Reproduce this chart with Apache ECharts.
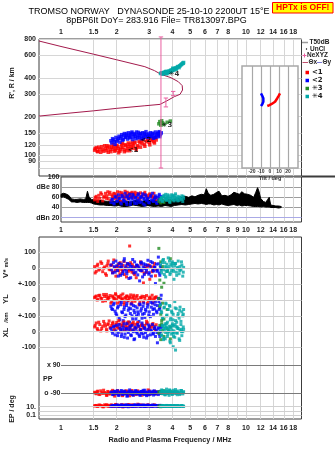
<!DOCTYPE html>
<html>
<head>
<meta charset="utf-8">
<script src="https://cdn.jsdelivr.net/npm/echarts@6/dist/echarts.min.js"></script>
<style>
html,body{margin:0;padding:0;background:#fff;}
#chart{width:335px;height:451px;}
</style>
</head>
<body>
<div id="chart"></div>
<script>
// ---- frequency ticks (MHz) ----
const freqTicksTop = [1, 1.5, 2, 3, 4, 5, 6, 7, 8, 10, 12, 14, 16, 18];
const freqTicksMid = [1, 1.5, 2, 3, 4, 5, 6, 7, 8, 9, 10, 12, 14, 16, 18];
const freqGridLines = [1.5, 2, 3, 4, 5, 6, 7, 8, 9, 10, 12, 14, 16, 18];
const heightTicks = [80, 90, 100, 120, 150, 200, 300, 400, 600, 800];
const ampTicks = [100, 80, 60, 40, 20];
const tiltTicks = [-20, -10, 0, 10, 20];

// ---- electron density profile (plasma frequency MHz, height km) ----
const profileFreq = [0.76, 1, 1.5, 2, 2.84, 3.2, 3.47, 3.93, 4.31, 4.52, 4.54, 4.4, 4.1, 3.73, 3.43, 2.84, 2, 1.5, 1, 0.76];
const profileKm   = [772, 700, 610, 552, 488, 455, 426, 401, 373, 348, 322, 298, 286, 265, 249, 243, 232, 222, 210, 202];

// ---- NeXYZ uncertainty bars ----
const neFreq = [3.47, 3.69, 4.04];
const neLowKm = [80, 238, 291];
const neHighKm = [830, 279, 314];

// ---- T50dB noise band (dB) ----
const noiseFreq = [1.0,1.03,1.06,1.1,1.14,1.18,1.22,1.27,1.32,1.36,
  1.39,1.42,1.46,1.5,1.56,1.62,1.7,1.78,1.86,1.95,
  2.05,2.15,2.25,2.35,2.45,2.55,2.65,2.75,2.85,2.95,
  3.05,3.2,3.35,3.5,3.65,3.8,3.95,4.1,4.3,4.5,
  4.7,4.9,5.1,5.3,5.5,5.75,5.95,6.1,6.25,6.45,
  6.7,6.95,7.15,7.4,7.7,8.0,8.3,8.6,8.9,9.2,
  9.5,9.8,10.2,10.6,11.0,11.3,11.55,11.75,12.0,12.4,
  12.8,13.1,13.35,13.6,14.0,14.5,15.0,15.5];
const noiseLow = [60,61,59,56,51,51,50,51,50,50,
  50,50,49,47,46,45,45,44,44,43,
  44,42,42,43,45,44,43,42,43,44,
  43,42,43,42,44,43,42,44,45,46,
  45,46,47,48,47,48,47,46,47,47,
  45,46,45,47,45,44,45,46,44,45,
  43,44,44,43,42,42,42,42,41,42,
  41,41,41,40,40,40,39,40];
const noiseHigh = [66,68,67,64,57,56,56,57,56,57,
  72,60,56,55,54,54,53,52,53,52,
  54,52,53,51,52,55,53,52,54,55,
  53,54,52,55,54,56,55,57,58,60,
  62,60,63,61,64,66,65,77,68,64,
  66,70,72,63,64,62,65,70,68,66,
  71,67,66,64,60,70,79,72,58,52,
  50,56,60,45,44,43,43,42];

// ---- echo group 1 (red) ----
const f1 = [1.52,1.55,1.58,1.62,1.66,1.7,1.74,1.77,1.8,1.84,1.88,1.91,1.95,1.98,2.02,2.05,2.09,2.13,2.16,2.2,2.24,2.28,2.31,2.35,2.39,2.43,2.47,2.51,2.55,2.6,2.64,2.69,2.74,2.79,2.84,2.9,2.96,3.02,3.08,3.14,3.2,3.27,
  1.53,1.57,1.6,1.64,1.68,1.72,1.76,1.79,1.82,1.86,1.9,1.93,1.97,2.0,2.04,2.08,2.11,2.15,2.19,2.22,2.26,2.3,2.34,2.38,2.42,2.46,2.5,2.58,2.67,2.72,2.82,2.93,3.0,3.11,3.18,3.24];
const h1 = [110,115,107,112,117,108,113,119,106,111,116,121,108,113,118,105,111,122,115,107,120,113,125,109,117,123,114,127,111,119,129,116,124,132,118,128,134,121,130,136,125,132,
  113,108,116,106,111,119,109,115,118,107,112,117,110,120,113,108,116,124,111,121,109,117,122,114,127,119,125,116,126,130,122,131,126,133,128,137];
const a1 = [55,62,52,58,66,60,68,63,57,70,65,59,67,61,71,56,64,69,62,58,66,70,60,64,68,61,67,70,63,58,66,69,62,65,70,64,60,67,63,58,61,56,
  60,57,64,69,53,62,58,71,66,54,62,68,57,65,60,70,52,66,61,72,64,57,68,62,70,59,65,68,56,61,67,59,65,62,68,60];
const vs1 = [10,-20,25,-5,30,0,-35,15,45,-10,20,-25,5,-50,12,-15,35,-8,18,-40,3,28,-20,140,-12,22,-30,8,-60,15,-5,40,-18,-93,10,-25,20,-70,5,-15,30,-10,
  -30,15,-12,40,-22,8,-45,28,-6,18,-28,52,-15,0,25,-35,10,-20,42,-4,-55,20,-10,35,-25,6,-40,14,-8,26,-32,4,18,-22,12,-48];
const yl1 = [15,25,5,30,10,35,-5,20,12,28,-10,18,8,32,-20,22,14,5,38,-15,10,25,0,18,-25,12,30,-8,20,6,-30,15,24,-12,10,28,-5,18,8,-18,12,20,
  20,0,28,12,-8,22,35,5,15,-20,25,10,40,2,18,-12,30,8,-28,16,24,-5,12,32,-15,20,4,28,-10,14,22,-22,10,30,0,16];
const xl1 = [30,55,10,45,20,65,35,5,50,25,40,60,15,45,30,70,20,38,55,10,42,28,62,18,35,50,8,45,25,58,32,15,48,22,40,66,12,35,28,52,18,44,
  40,20,60,5,35,50,15,45,68,28,52,10,36,58,22,48,5,40,62,30,16,54,38,12,46,60,24,50,6,40,28,56,20,44,34,10];
const pp1 = [-85,-95,-78,-100,-88,-72,-92,-105,-84,-96,-80,-90,-110,-86,-75,-98,-88,-82,-102,-91,-77,-94,-86,-108,-80,-97,-89,-83,-100,-76,-93,-87,-104,-81,-95,-90,-70,-99,-85,-92,-79,-96,
  -90,-82,-98,-76,-93,-87,-104,-80,-95,-88,-73,-101,-85,-92,-79,-97,-89,-107,-83,-94,-78,-99,-86,-91,-74,-103,-88,-81,-96,-90,-84,-100,-77,-93,-87,-82];
const ep1 = [15,20,12,25,18,10,22,30,14,17,26,11,19,35,16,21,13,28,9,24,18,15,32,20,12,27,17,22,14,40,19,11,25,16,23,13,29,18,21,15,26,17,
  18,13,23,16,10,27,15,20,12,24,17,14,30,19,11,22,16,25,13,18,21,15,28,12,19,23,14,17,26,20,13,22,16,11,24,18];

// ---- echo group 2 (blue) ----
const f2 = [1.86,1.9,1.94,1.98,2.02,2.06,2.1,2.13,2.17,2.2,2.24,2.27,2.31,2.35,2.38,2.42,2.46,2.5,2.54,2.58,2.62,2.66,2.7,2.74,2.78,2.82,2.86,2.9,2.95,3.0,3.04,3.08,3.12,3.16,3.2,3.24,3.28,3.32,3.36,3.4,3.44,3.48,
  1.88,1.92,1.96,2.0,2.04,2.08,2.12,2.15,2.19,2.22,2.26,2.29,2.33,2.37,2.4,2.44,2.48,2.52,2.56,2.6,2.64,2.68,2.72,2.76,2.8,2.84,2.88,2.93,2.98,3.06,3.14,3.22,3.3,3.38,3.42,3.46];
const h2 = [130,135,128,138,132,141,136,145,133,148,139,143,150,137,146,152,140,148,135,144,151,138,147,142,136,149,141,145,138,143,150,140,147,136,144,152,139,148,142,153,145,150,
  125,132,122,129,136,127,140,131,144,138,147,134,142,139,149,133,145,141,152,137,143,148,135,150,139,146,153,140,147,141,149,138,146,151,140,148];
const a2 = [50,56,47,60,53,58,49,64,55,52,61,46,58,66,51,57,63,48,60,54,67,50,59,62,47,56,65,53,58,49,61,55,68,52,57,63,50,60,54,66,58,62,
  56,49,62,52,65,58,47,61,54,68,50,63,57,46,60,66,53,59,48,64,55,61,51,67,58,45,62,56,50,64,53,59,48,63,57,52];
const vs2 = [20,-30,10,45,-15,30,-45,5,-20,60,15,-35,0,25,-60,10,-10,40,-25,18,-5,-80,32,-15,8,-40,22,-8,50,-28,12,-50,35,-18,4,-97,26,-12,70,-30,15,-6,
  -10,35,-25,15,-50,5,25,-35,45,-5,-20,30,-65,12,-8,55,-30,2,20,-42,8,-15,38,-55,28,-2,-25,18,-38,42,-12,6,-20,28,-45,10];
const yl2 = [-40,-60,-20,-85,-50,-110,-30,-75,-130,-45,-95,-20,-65,-140,-55,-100,-35,-80,-120,-50,-90,-25,-70,-115,-40,-85,-60,-150,-30,-75,-105,-45,-20,-90,-55,-10,-70,-35,10,-60,-25,30,
  -55,-30,-70,-95,-40,-125,-15,-80,-60,-105,-35,-145,-50,-85,-25,-120,-65,-40,-100,-75,-135,-30,-55,-90,-20,-110,-70,-45,-95,-15,-60,-30,-80,-10,-50,5];
const xl2 = [20,-10,35,5,-25,45,10,-15,30,-35,15,50,-5,25,-20,40,0,-45,20,-10,35,-30,10,55,-15,25,-5,-40,15,30,-20,5,45,-10,20,-30,10,-70,25,-15,0,35,
  5,30,-20,40,-5,25,-30,15,50,-15,20,-40,8,35,-25,12,-50,28,0,45,-20,15,-10,38,-35,20,5,-25,42,10,-15,30,-5,18,-30,25];
const pp2 = [-88,-100,-80,-95,-75,-105,-90,-84,-98,-78,-92,-110,-86,-70,-96,-82,-104,-89,-76,-94,-87,-101,-81,-93,-73,-99,-85,-107,-90,-79,-97,-84,-91,-103,-77,-95,-88,-82,-100,-86,-93,-80,
  -84,-97,-79,-91,-104,-86,-74,-99,-89,-82,-95,-108,-78,-92,-85,-100,-88,-76,-96,-83,-90,-105,-80,-94,-87,-72,-98,-85,-102,-91,-78,-96,-88,-83,-93,-86];
const ep2 = [12,16,20,14,25,11,18,22,15,13,28,17,10,21,16,19,12,24,14,18,30,13,17,22,15,11,20,16,26,13,19,14,23,12,17,21,15,18,11,16,14,20,
  15,19,12,23,17,14,26,11,20,16,13,24,18,15,21,12,17,27,14,19,16,22,13,18,25,15,11,20,17,14,23,19,12,16,21,15];

// ---- echo group 3 (green) ----
const f3 = [3.38,3.42,3.46,3.5,3.54,3.6,3.75,3.9];
const h3 = [176,183,172,186,179,174,181,185];
const a3 = [52,56,49,58,54,50,57,53];
const vs3 = [125,-75,40,-120,10,-95,-20,60];
const yl3 = [10,-40,-90,-150,-20,-120,-60,-170];
const xl3 = [-10,40,-50,70,5,-30,20,-45];
const pp3 = [-82,-88,-78,-92,-85,-75,-90,-80];
const ep3 = [12,15,10,18,14,11,16,13];

// ---- echo group 4 (cyan) ----
const f4 = [3.45,3.5,3.55,3.6,3.64,3.68,3.72,3.76,3.8,3.84,3.88,3.92,3.96,4.0,4.04,4.08,4.12,4.16,4.2,4.25,4.3,4.35,4.4,4.45,4.5,4.55,4.6,3.58,3.7,4.02,
  3.48,3.53,3.62,3.66,3.74,3.78,3.86,3.9,3.98,4.06,4.14,4.22,4.28,4.38,4.48,4.58];
const h4 = [432,438,428,441,435,444,430,447,439,452,445,458,450,462,468,457,472,478,466,484,490,480,497,505,512,520,526,436,449,475,
  434,429,437,446,433,442,448,455,460,466,470,476,486,494,508,518];
const a4 = [55,60,52,64,58,66,54,61,57,63,50,59,65,56,62,53,60,67,55,58,62,54,60,57,63,52,58,61,56,64,
  58,53,62,56,60,65,52,58,61,55,64,59,53,60,56,62];
const vs4 = [20,-30,50,-10,35,-55,5,-20,65,10,-40,25,-15,40,-5,-70,15,30,-25,0,45,-35,10,-10,20,-50,5,55,-20,30,
  -15,35,-40,10,25,-5,45,-30,15,-20,30,-45,5,-15,40,-25];
const yl4 = [-30,-80,-120,-50,-160,-20,-100,-140,-60,-190,-40,-110,-70,-150,-90,-210,-10,-130,-55,-170,-85,-115,-45,-135,-75,-100,-60,-180,-25,-125,
  -70,-110,-45,-150,-95,-200,-35,-125,-80,-165,-50,-140,-100,-65,-185,-90];
const xl4 = [10,-20,35,-40,20,-5,50,-30,15,0,-60,25,-15,40,-95,5,-35,-116,30,-10,20,-45,10,45,-25,0,15,-50,30,-5,
  -25,40,5,-45,25,-15,35,-70,10,-30,45,-5,20,-55,0,30];
const pp4 = [-85,-70,-95,-78,-100,-88,-65,-92,-80,-105,-75,-90,-84,-98,-72,-86,-94,-68,-82,-101,-77,-89,-93,-74,-87,-96,-81,-91,-79,-85,
  -92,-76,-88,-102,-81,-95,-70,-90,-98,-84,-79,-93,-86,-100,-74,-88];
const ep4 = [14,11,18,13,16,12,20,15,11,17,13,19,14,12,16,15,18,12,14,17,13,15,11,16,19,14,12,17,15,13,
  12,16,14,11,18,13,15,17,12,14,16,11,19,13,15,14];

// ---- echo group markers on the height panel ----
const markFreq = [2.45, 2.88, 3.74, 4.08];
const markKm = [110, 132, 172, 425];
const markText = ['<1', '<2', '\u27333', '\u27334'];

// ---- wave-vector tilt (deg) vs height (km) ----
const tiltBlueDeg = [-10, -8.6, -7.4, -7.1, -7.4, -8.6, -10];
const tiltBlueKm  = [303, 290, 278, 270, 261, 250, 242];
const tiltRedDeg  = [-3, -0.5, 1.9, 4, 5.6, 7, 8.1, 9.6, 11.1];
const tiltRedKm   = [242, 246, 251, 256, 261, 269, 278, 290, 303];

// ---------------------------------------------------------------
const lg = Math.log10;
const FONT = "'Liberation Sans', Arial, sans-serif";
const X_MIN = -22 / 185, X_MAX = 240.5 / 185;          // log10(MHz)
const H_MAX = lg(800), H_MIN = lg(800) - 137 / 129;     // log10(km)
const AMP_MAX = 100, AMP_MIN = 100 - 45 / 0.50875;
const ROW = 0.1585;                                     // px per m/s (or km)
const V_MAX = 31.2 / ROW, YL_MAX = 63 / ROW, XL_MAX = 94.7 / ROW, LOW_SPAN = 182 / ROW;
const PP_MAX = 90 + 25 / 0.15556, PP_MIN = -90 - 17 / 0.15556;
const EP_MAX = 1 + 11.7 / 4.15, EP_MIN = -1 - 4 / 4.15;

const labelFont = {fontFamily: FONT, fontSize: 7, fontWeight: 'bold', color: '#1c1c1c'};
const freqFmt = v => String(+Math.pow(10, v).toFixed(2));
const lightLine = {show: true, lineStyle: {color: '#d6d6d6', width: 1}};

const groups = [
  {color: '#ff0000', f: f1, h: h1, a: a1, vs: vs1, yl: yl1, xl: xl1, pp: pp1, ep: ep1},
  {color: '#0000ff', f: f2, h: h2, a: a2, vs: vs2, yl: yl2, xl: xl2, pp: pp2, ep: ep2},
  {color: '#228b22', f: f3, h: h3, a: a3, vs: vs3, yl: yl3, xl: xl3, pp: pp3, ep: ep3},
  {color: '#00a8a8', f: f4, h: h4, a: a4, vs: vs4, yl: yl4, xl: xl4, pp: pp4, ep: ep4}
];

function freqAxis(gridIndex, extra) {
  return Object.assign({
    type: 'value', gridIndex: gridIndex, min: X_MIN, max: X_MAX,
    axisLine: {show: false},
    axisTick: {show: false, customValues: freqGridLines.map(lg)},
    axisLabel: {show: false},
    splitLine: {show: false}
  }, extra);
}
function rowAxis(gridIndex, min, max, labels, fmt, margin) {
  return {
    type: 'value', gridIndex: gridIndex, min: min, max: max,
    axisLine: {show: false}, axisTick: {show: false}, splitLine: {show: false},
    axisLabel: Object.assign({customValues: labels, formatter: v => fmt[v], margin: margin}, labelFont)
  };
}
function guideLines(idx, values, color, width) {
  return {
    type: 'scatter', xAxisIndex: idx, yAxisIndex: idx, data: [], z: 1, silent: true,
    markLine: {silent: true, symbol: 'none', animation: false, label: {show: false},
      lineStyle: {color: color, width: width, type: 'solid'},
      emphasis: {disabled: true},
      data: values.map(v => ({yAxis: v}))}
  };
}
function echoSeries(idx, key, transform, size) {
  return groups.map(g => ({
    type: 'scatter', xAxisIndex: idx, yAxisIndex: idx, z: 3, silent: true,
    symbol: 'rect', symbolSize: size, itemStyle: {color: g.color},
    data: g.f.map((f, i) => [lg(f), transform ? transform(g[key][i]) : g[key][i]])
  }));
}

const gridBase = {right: 33.5, outerBoundsMode: 'none', containLabel: false};
const grids = [
  Object.assign({left: 39, top: 39, height: 137, show: true, borderColor: '#3c3c3c', borderWidth: 1, backgroundColor: 'transparent'}, gridBase),
  Object.assign({left: 61, top: 177, height: 45, show: true, borderColor: '#3c3c3c', borderWidth: 1, backgroundColor: 'transparent'}, gridBase),
  Object.assign({left: 39, top: 237, height: 182, show: true, borderColor: '#3c3c3c', borderWidth: 1, backgroundColor: 'transparent'}, gridBase),
  Object.assign({left: 39, top: 237, height: 182}, gridBase),
  Object.assign({left: 39, top: 237, height: 182}, gridBase),
  Object.assign({left: 39, top: 237, height: 182}, gridBase),
  Object.assign({left: 61, top: 340, height: 70}, gridBase),
  Object.assign({left: 39, top: 395, height: 24}, gridBase),
  {left: 242, right: 37, top: 66, height: 102, show: true, borderColor: '#a8a8a8', borderWidth: 1.5,
   backgroundColor: '#ffffff', z: 3, outerBoundsMode: 'none', containLabel: false}
];

const xAxes = [
  freqAxis(0, {position: 'top', splitLine: lightLine,
    axisLabel: Object.assign({show: true, customValues: freqTicksTop.map(lg), formatter: freqFmt, margin: 3}, labelFont)}),
  freqAxis(1, {min: 0, splitLine: lightLine,
    axisLabel: Object.assign({show: true, customValues: freqTicksMid.map(lg), formatter: freqFmt, margin: 4.5}, labelFont)}),
  freqAxis(2, {splitLine: lightLine,
    axisLabel: Object.assign({show: true, customValues: freqTicksTop.map(lg), formatter: freqFmt, margin: 5.5}, labelFont)}),
  freqAxis(3, {show: false}),
  freqAxis(4, {show: false}),
  freqAxis(5, {show: false}),
  freqAxis(6, {min: 0, show: false}),
  freqAxis(7, {show: false}),
  {type: 'value', gridIndex: 8, min: -31.1, max: 31.1, z: 4,
   axisLine: {show: false}, axisTick: {show: false, customValues: tiltTicks},
   axisLabel: {customValues: tiltTicks, margin: 1.5, fontFamily: FONT, fontSize: 5, fontWeight: 'bold', color: '#333'},
   splitLine: {show: true, lineStyle: {color: '#a8a8a8', width: 1.2}},
   name: 'Tilt / deg', nameLocation: 'middle', nameGap: 7.5,
   nameTextStyle: {fontFamily: FONT, fontSize: 5.5, fontWeight: 'bold', color: '#333'}}
];

const yAxes = [
  {type: 'value', gridIndex: 0, min: H_MIN, max: H_MAX,
   axisLine: {show: false}, axisTick: {show: false, customValues: heightTicks.map(lg)},
   axisLabel: Object.assign({customValues: heightTicks.map(lg), formatter: v => String(Math.round(Math.pow(10, v))), margin: 3}, labelFont),
   splitLine: lightLine},
  {type: 'value', gridIndex: 1, min: AMP_MIN, max: AMP_MAX,
   axisLine: {show: false}, axisTick: {show: false, customValues: [80, 60, 40]},
   axisLabel: Object.assign({customValues: ampTicks, formatter: v => ({80: 'dBe 80', 20: 'dBn 20'})[v] || String(v), margin: 1.5}, labelFont),
   splitLine: {show: true, lineStyle: {color: '#9c9c9c', width: 1}}},
  {type: 'value', gridIndex: 2, min: 0, max: 1, show: false},
  rowAxis(3, V_MAX - LOW_SPAN, V_MAX, [100, 0, -100], {100: '100', 0: '0', '-100': '+-100'}, 3),
  rowAxis(4, YL_MAX - LOW_SPAN, YL_MAX, [0, -100], {0: '0', '-100': '+-100'}, 3),
  rowAxis(5, XL_MAX - LOW_SPAN, XL_MAX, [0, -100], {0: '0', '-100': '-100'}, 3),
  rowAxis(6, PP_MIN, PP_MAX, [90, -90], {90: 'x 90', '-90': 'o -90'}, 0.5),
  rowAxis(7, EP_MIN, EP_MAX, [1, -1], {1: '10.', '-1': '0.1'}, 3),
  {type: 'value', gridIndex: 8, min: H_MAX - 27 / 129 - 102 / 129, max: H_MAX - 27 / 129, show: false}
];

const series = [];

// height panel: profile, NeXYZ bars, echoes, group markers
series.push({
  type: 'line', xAxisIndex: 0, yAxisIndex: 0, z: 3, silent: true, showSymbol: false,
  lineStyle: {color: '#a31a4c', width: 1},
  data: profileFreq.map((f, i) => [lg(f), lg(profileKm[i])])
});
series.push({
  type: 'custom', xAxisIndex: 0, yAxisIndex: 0, z: 4, clip: false, silent: true,
  data: neFreq.map((f, i) => [lg(f), lg(neLowKm[i]), lg(neHighKm[i])]),
  renderItem: function (params, api) {
    const top = api.coord([api.value(0), api.value(2)]);
    const bot = api.coord([api.value(0), api.value(1)]);
    const w = 2.2, st = {stroke: '#ea5fa0', lineWidth: 1};
    return {type: 'group', children: [
      {type: 'line', shape: {x1: top[0], y1: top[1], x2: bot[0], y2: bot[1]}, style: st},
      {type: 'line', shape: {x1: top[0] - w, y1: top[1], x2: top[0] + w, y2: top[1]}, style: st},
      {type: 'line', shape: {x1: bot[0] - w, y1: bot[1], x2: bot[0] + w, y2: bot[1]}, style: st}
    ]};
  }
});
series.push(...echoSeries(0, 'h', lg, 3.5));
series.push({
  type: 'scatter', xAxisIndex: 0, yAxisIndex: 0, z: 5, silent: true, symbolSize: 0,
  data: markFreq.map((f, i) => [lg(f), lg(markKm[i]), markText[i]]),
  label: {show: true, position: 'inside', formatter: p => p.data[2],
    fontFamily: "'DejaVu Sans', " + FONT, fontSize: 7, fontWeight: 'bold', color: '#000'}
});

// amplitude panel
series.push(guideLines(1, [20], '#a9a9e6', 1));
series.push({
  type: 'custom', xAxisIndex: 1, yAxisIndex: 1, z: 2, silent: true,
  data: noiseFreq.map((f, i) => [lg(f), noiseLow[i], noiseHigh[i]]),
  renderItem: function (params, api) {
    if (params.dataIndex !== 0) return null;
    const top = [], bot = [];
    noiseFreq.forEach((f, i) => {
      top.push(api.coord([lg(f), noiseHigh[i]]));
      bot.push(api.coord([lg(f), noiseLow[i]]));
    });
    return {type: 'polygon', shape: {points: top.concat(bot.reverse())},
      style: {fill: '#000', stroke: '#000', lineWidth: 1}};
  }
});
series.push(...echoSeries(1, 'a', null, 3));

// velocity and location rows
series.push(guideLines(3, [100, 0, -100], '#d0d0d0', 1));
series.push(guideLines(4, [0, -100], '#d0d0d0', 1));
series.push(guideLines(5, [0, -100], '#d0d0d0', 1));
series.push(guideLines(6, [90, -90], '#7a7a7a', 1));
series.push(guideLines(7, [1, 0, -1], '#d0d0d0', 1));
series.push(...echoSeries(3, 'vs', null, 3));
series.push(...echoSeries(4, 'yl', null, 3));
series.push(...echoSeries(5, 'xl', null, 3));
series.push(...echoSeries(6, 'pp', null, 3));
series.push(...echoSeries(7, 'ep', lg, 3));

// tilt inset
series.push({
  type: 'line', xAxisIndex: 8, yAxisIndex: 8, z: 5, silent: true, showSymbol: false,
  lineStyle: {color: '#0000ff', width: 2.5},
  data: tiltBlueDeg.map((t, i) => [t, lg(tiltBlueKm[i])])
});
series.push({
  type: 'line', xAxisIndex: 8, yAxisIndex: 8, z: 5, silent: true, showSymbol: false,
  lineStyle: {color: '#ff0000', width: 2.5},
  data: tiltRedDeg.map((t, i) => [t, lg(tiltRedKm[i])])
});

// ---- texts and key ----
const txt = (x, y, text, size, extra) => Object.assign({type: 'text', x: x, y: y, silent: true,
  style: Object.assign({text: text, fontFamily: FONT, fontSize: size, fontWeight: 'bold', fill: '#1c1c1c',
    align: 'left', verticalAlign: 'middle'}, extra && extra.style)}, extra && extra.el);
const rot = (x, y, text, size, style) => txt(x, y, text, size, {el: {rotation: Math.PI / 2}, style: Object.assign({align: 'center'}, style)});

const keyItems = [['#ff0000', '<1'], ['#0000ff', '<2'], ['#228b22', '\u27333'], ['#00a8a8', '\u27334']];
const graphics = [
  txt(149, 12, 'TROMSO NORWAY   DYNASONDE 25-10-10 2200UT 15\u00b0E', 9, {style: {align: 'center', fontWeight: 'normal', fill: '#000'}}),
  txt(156.5, 20.5, '8pBP6It DoY= 283.916 File= TR813097.BPG', 9, {style: {align: 'center', fontWeight: 'normal', fill: '#000'}}),
  {type: 'rect', shape: {x: 272.5, y: 2.5, width: 60.5, height: 10.5}, style: {fill: '#ffff00', stroke: '#ff0000', lineWidth: 1}, silent: true},
  txt(302.75, 8, 'HPTx is OFF!', 8.5, {style: {align: 'center', fill: '#ff0000'}}),
  {type: 'line', shape: {x1: 301.5, y1: 176.5, x2: 335, y2: 176.5}, style: {stroke: '#3c3c3c', lineWidth: 2}, silent: true},
  // key
  {type: 'line', shape: {x1: 302, y1: 42.5, x2: 308, y2: 42.5}, style: {stroke: '#9a9a9a', lineWidth: 1.5}, silent: true},
  txt(309.5, 42.5, 'T50dB', 6.5),
  {type: 'circle', shape: {cx: 306.5, cy: 49, r: 0.7}, style: {fill: '#000'}, silent: true},
  txt(310, 49, 'UnCl', 6.5),
  {type: 'line', shape: {x1: 302.5, y1: 55.5, x2: 306.5, y2: 55.5}, style: {stroke: '#ea5fa0', lineWidth: 1}, silent: true},
  {type: 'line', shape: {x1: 304.5, y1: 53.5, x2: 304.5, y2: 57.5}, style: {stroke: '#ea5fa0', lineWidth: 1}, silent: true},
  txt(307, 55.5, 'NeXYZ', 6.5),
  {type: 'line', shape: {x1: 302.5, y1: 62.5, x2: 308, y2: 62.5}, style: {stroke: '#c0506e', lineWidth: 1}, silent: true},
  txt(308.5, 62.5, '\u0398x', 6.5),
  {type: 'line', shape: {x1: 317, y1: 62.5, x2: 322, y2: 62.5}, style: {stroke: '#7c7cd8', lineWidth: 1}, silent: true},
  txt(322.5, 62.5, '\u0398y', 6.5),
  // axis titles
  rot(12.5, 83, "R', R / km", 7),
  rot(6, 268, '{a|V*} {b|m/s}', 7, {rich: {a: {fontFamily: FONT, fontSize: 8, fontWeight: 'bold', fill: '#1c1c1c'}, b: {fontFamily: FONT, fontSize: 5.5, fontWeight: 'bold', fill: '#1c1c1c'}}}),
  rot(6, 299, 'YL', 7.5),
  rot(6, 317.5, '/km', 6),
  rot(6, 332.5, 'XL', 7.5),
  rot(12.5, 409, 'EP / deg', 7),
  txt(43, 379, 'PP', 7),
  txt(170, 439.5, 'Radio and Plasma Frequency / MHz', 7.3, {style: {align: 'center'}})
];
keyItems.forEach((k, i) => {
  const y = 72.5 + i * 8;
  graphics.push({type: 'rect', shape: {x: 305.5, y: y - 1.75, width: 3.5, height: 3.5}, style: {fill: k[0]}, silent: true});
  graphics.push(txt(312, y, k[1], 7, {style: {fontFamily: "'DejaVu Sans', " + FONT}}));
});

const chart = echarts.init(document.getElementById('chart'), null, {renderer: 'canvas'});
chart.setOption({
  animation: false,
  backgroundColor: '#ffffff',
  textStyle: {fontFamily: FONT},
  tooltip: {show: false},
  grid: grids,
  xAxis: xAxes,
  yAxis: yAxes,
  series: series,
  graphic: {elements: graphics}
});
</script>
</body>
</html>
